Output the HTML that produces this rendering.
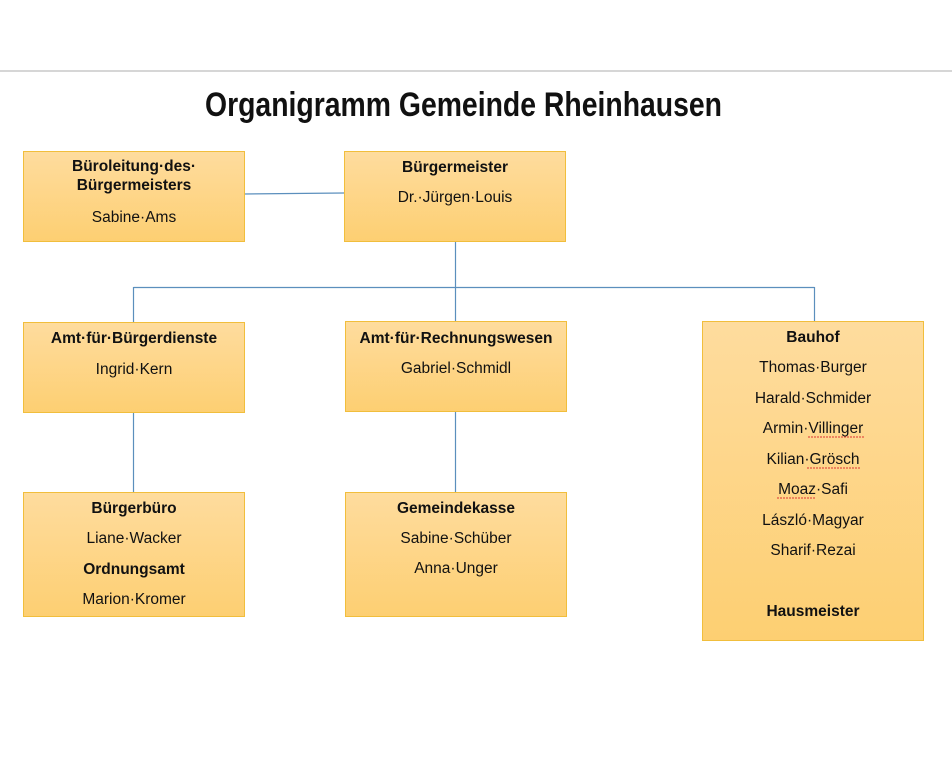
<!DOCTYPE html>
<html><head><meta charset="utf-8"><style>
html,body{margin:0;padding:0;background:#fff;}
svg{display:block}
text{font-family:"Liberation Sans",Arial,sans-serif;font-size:15.5px;fill:#111;text-anchor:middle;}
.b{font-weight:bold;}
</style></head><body>
<svg width="952" height="758" viewBox="0 0 952 758" xmlns="http://www.w3.org/2000/svg">
<defs><linearGradient id="g" x1="0" y1="0" x2="0" y2="1"><stop offset="0" stop-color="#fedc9e"/><stop offset="1" stop-color="#fdcf72"/></linearGradient></defs>
<line x1="0" y1="71" x2="952" y2="71" stroke="#c8c8c8" stroke-width="1.5"/>
<text x="463.5" y="116" class="b" style="font-size:34px" textLength="517" lengthAdjust="spacingAndGlyphs">Organigramm Gemeinde Rheinhausen</text>
<g stroke="#5b8fbd" stroke-width="1.2" fill="none">
<line x1="244" y1="194" x2="344" y2="193"/>
<line x1="455.5" y1="241" x2="455.5" y2="287"/>
<line x1="133.5" y1="287.5" x2="814.5" y2="287.5"/>
<line x1="133.5" y1="287" x2="133.5" y2="322"/>
<line x1="455.5" y1="287" x2="455.5" y2="321"/>
<line x1="814.5" y1="287" x2="814.5" y2="321"/>
<line x1="133.5" y1="412" x2="133.5" y2="492"/>
<line x1="455.5" y1="411" x2="455.5" y2="492"/>
</g>
<g fill="url(#g)" stroke="#f1be3c" stroke-width="1">
<rect x="23.5" y="151.5" width="221" height="90"/>
<rect x="344.5" y="151.5" width="221" height="90"/>
<rect x="23.5" y="322.5" width="221" height="90"/>
<rect x="345.5" y="321.5" width="221" height="90"/>
<rect x="702.5" y="321.5" width="221" height="319"/>
<rect x="23.5" y="492.5" width="221" height="124"/>
<rect x="345.5" y="492.5" width="221" height="124"/>
</g>
<text x="134" y="171" class="b">Büroleitung·des·</text>
<text x="134" y="190" class="b">Bürgermeisters</text>
<text x="134" y="222">Sabine·Ams</text>
<text x="455" y="172" class="b">Bürgermeister</text>
<text x="455" y="202">Dr.·Jürgen·Louis</text>
<text x="134" y="343" class="b">Amt·für·Bürgerdienste</text>
<text x="134" y="374">Ingrid·Kern</text>
<text x="456" y="343" class="b">Amt·für·Rechnungswesen</text>
<text x="456" y="373">Gabriel·Schmidl</text>
<text x="813" y="342" class="b">Bauhof</text>
<text x="813" y="372">Thomas·Burger</text>
<text x="813" y="403">Harald·Schmider</text>
<text x="813" y="433">Armin·Villinger</text>
<text x="813" y="464">Kilian·Grösch</text>
<text x="813" y="494">Moaz·Safi</text>
<text x="813" y="525">László·Magyar</text>
<text x="813" y="555">Sharif·Rezai</text>
<text x="813" y="616" class="b">Hausmeister</text>
<text x="134" y="513" class="b">Bürgerbüro</text>
<text x="134" y="543">Liane·Wacker</text>
<text x="134" y="574" class="b">Ordnungsamt</text>
<text x="134" y="604">Marion·Kromer</text>
<text x="456" y="513" class="b">Gemeindekasse</text>
<text x="456" y="543">Sabine·Schüber</text>
<text x="456" y="573">Anna·Unger</text>
<g stroke="#d33" stroke-width="1" fill="none" stroke-dasharray="2 1">
<line x1="808" y1="437" x2="864" y2="437"/>
<line x1="807" y1="468" x2="860" y2="468"/>
<line x1="777" y1="498" x2="815" y2="498"/>
</g>
</svg>
</body></html>
